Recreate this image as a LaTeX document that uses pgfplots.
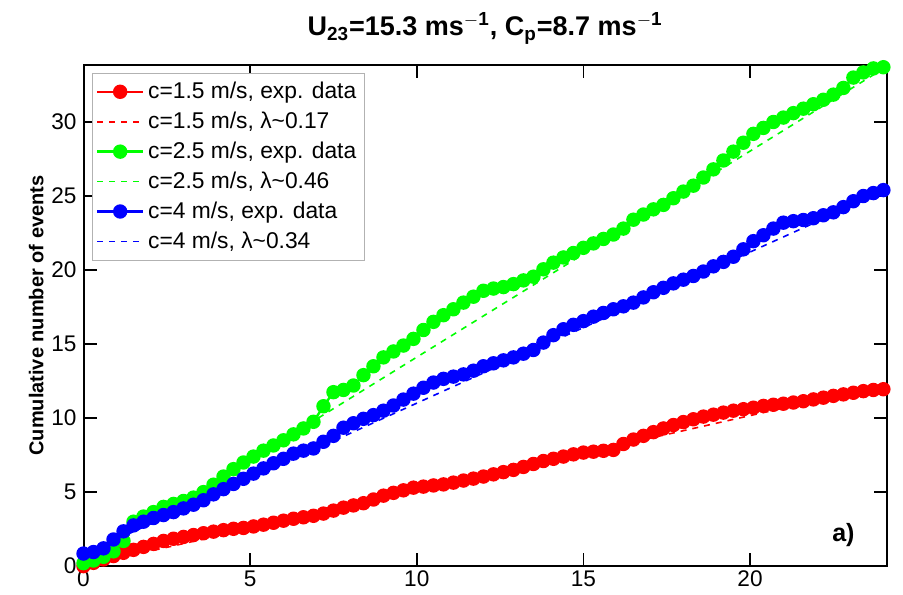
\documentclass[border=0pt]{standalone}
\usepackage{pgfplots}
\pgfplotsset{compat=1.18}
\usepackage{pgfplotstable}
\usepackage{fontspec}
\setmainfont{Liberation Sans}
\pgfplotstableread{
x r g b
0.0 0.00 0.20 0.85
0.3 0.22 0.38 0.95
0.6 0.45 0.63 1.20
0.9 0.68 1.00 1.80
1.2 0.90 1.70 2.35
1.5 1.10 3.00 2.75
1.8 1.30 3.35 3.00
2.1 1.50 3.65 3.25
2.4 1.70 4.00 3.45
2.7 1.85 4.20 3.65
3.0 1.97 4.40 3.90
3.3 2.10 4.63 4.15
3.6 2.22 5.00 4.45
3.9 2.33 5.50 4.85
4.2 2.43 6.05 5.20
4.5 2.52 6.55 5.55
4.8 2.58 7.00 5.90
5.1 2.68 7.40 6.25
5.4 2.80 7.80 6.60
5.7 2.93 8.15 6.95
6.0 3.07 8.50 7.25
6.3 3.20 8.90 7.60
6.6 3.30 9.30 7.80
6.9 3.40 9.75 7.95
7.2 3.55 10.80 8.40
7.5 3.75 11.75 8.80
7.8 3.95 11.90 9.35
8.1 4.10 12.20 9.65
8.4 4.25 12.90 9.95
8.7 4.50 13.50 10.20
9.0 4.76 14.10 10.50
9.3 4.95 14.50 10.85
9.6 5.12 14.90 11.25
9.9 5.30 15.35 11.65
10.2 5.37 15.95 12.05
10.5 5.45 16.50 12.40
10.8 5.52 16.95 12.65
11.1 5.64 17.35 12.80
11.4 5.78 17.80 12.95
11.7 5.91 18.20 13.20
12.0 6.05 18.60 13.50
12.3 6.20 18.75 13.70
12.6 6.35 18.85 13.90
12.9 6.50 19.05 14.10
13.2 6.70 19.30 14.35
13.5 6.90 19.55 14.60
13.8 7.10 20.05 15.10
14.1 7.25 20.50 15.60
14.4 7.40 20.85 16.00
14.7 7.55 21.15 16.30
15.0 7.67 21.50 16.55
15.3 7.73 21.80 16.85
15.6 7.79 22.10 17.10
15.9 7.85 22.40 17.35
16.2 8.25 22.80 17.55
16.5 8.55 23.40 17.80
16.8 8.80 23.75 18.15
17.1 9.05 24.10 18.50
17.4 9.30 24.40 18.80
17.7 9.53 24.85 19.10
18.0 9.73 25.30 19.35
18.3 9.92 25.70 19.60
18.6 10.10 26.25 19.90
18.9 10.23 26.80 20.25
19.2 10.37 27.40 20.55
19.5 10.50 28.00 20.90
19.8 10.60 28.60 21.40
20.1 10.70 29.20 21.95
20.4 10.82 29.60 22.35
20.7 10.90 30.00 22.80
21.0 10.97 30.30 23.20
21.3 11.05 30.60 23.30
21.6 11.14 30.90 23.38
21.9 11.26 31.20 23.50
22.2 11.38 31.50 23.70
22.5 11.50 31.85 23.90
22.8 11.60 32.30 24.25
23.1 11.71 33.00 24.65
23.4 11.82 33.35 25.00
23.7 11.90 33.62 25.20
24.0 11.95 33.70 25.40
}\data
\definecolor{mred}{RGB}{255,0,0}
\definecolor{mgreen}{RGB}{0,255,0}
\definecolor{mblue}{RGB}{0,0,255}
\begin{document}
\begin{tikzpicture}
\begin{axis}[
  scale only axis,
  width=401.5pt, height=250.5pt,
  xmin=0, xmax=24.1, ymin=0, ymax=33.85,
  xtick={0,5,10,15,20}, ytick={0,5,10,15,20,25,30},
  tick align=inside, major tick length=6.5pt,
  axis line style={line width=1pt},
  every tick/.style={black, line width=0.8pt},
  tick label style={font=\fontsize{11.3}{12}\selectfont},
  /pgf/number format/assume math mode=true,
  xticklabel style={yshift=1pt},
  ylabel={\bfseries Cumulative number of events},
  ylabel style={font=\fontsize{10}{12}\selectfont, yshift=-3pt},
  title={\bfseries U$_{\mathbf{23}}$=15.3 ms$^{\mathbf{-1}}$, C$_{\mathbf{p}}$=8.7 ms$^{\mathbf{-1}}$},
  title style={font=\fontsize{13.5}{15}\selectfont, yshift=1pt},
  legend cell align=left,
  legend style={at={(0.0102,0.985)}, anchor=north west, draw=gray!60, line width=0.5pt,
    font=\fontsize{11.4}{13.5}\selectfont, row sep=1.2pt, inner xsep=2pt, inner ysep=2.5pt},
  legend image code/.code={\draw[mark repeat=2,mark phase=2] plot coordinates {(0cm,0cm) (0.4cm,0cm) (0.8cm,0cm)};},
]
\addplot[mred, dashed, line width=0.8pt, forget plot] coordinates {(0,0) (24,12.2)};
\addplot[mgreen, dashed, line width=0.8pt, forget plot] coordinates {(0,0.2) (24,33.6)};
\addplot[mblue, dashed, line width=0.8pt, forget plot] coordinates {(0,0.8) (24,25.3)};
\addplot[mred, line width=1.2pt, mark=*, mark size=3pt, mark options={solid, fill=mred, draw=mred}] table[x=x,y=r]{\data};
\addlegendentry{c=1.5 m/s, exp. data}
\addlegendimage{mred, dashed, line width=0.8pt}
\addlegendentry{c=1.5 m/s, λ\char`~0.17}
\addplot[mgreen, line width=1.2pt, mark=*, mark size=3pt, mark options={solid, fill=mgreen, draw=mgreen}] table[x=x,y=g]{\data};
\addlegendentry{c=2.5 m/s, exp. data}
\addlegendimage{mgreen, dashed, line width=0.8pt}
\addlegendentry{c=2.5 m/s, λ\char`~0.46}
\addplot[mblue, line width=1.2pt, mark=*, mark size=3pt, mark options={solid, fill=mblue, draw=mblue}] table[x=x,y=b]{\data};
\addlegendentry{c=4 m/s, exp. data}
\addlegendimage{mblue, dashed, line width=0.8pt}
\addlegendentry{c=4 m/s, λ\char`~0.34}
\node[font=\bfseries\fontsize{12.5}{14}\selectfont] at (axis cs:22.8,2.1) {a)};
\coordinate (bl) at (rel axis cs:0,0);
\coordinate (tr) at (rel axis cs:1,1);
\end{axis}
\pgfresetboundingbox
\path[use as bounding box] ([xshift=-41.75pt,yshift=-14pt]bl) rectangle ([xshift=8.15pt,yshift=32.5pt]tr);
\end{tikzpicture}
\end{document}
